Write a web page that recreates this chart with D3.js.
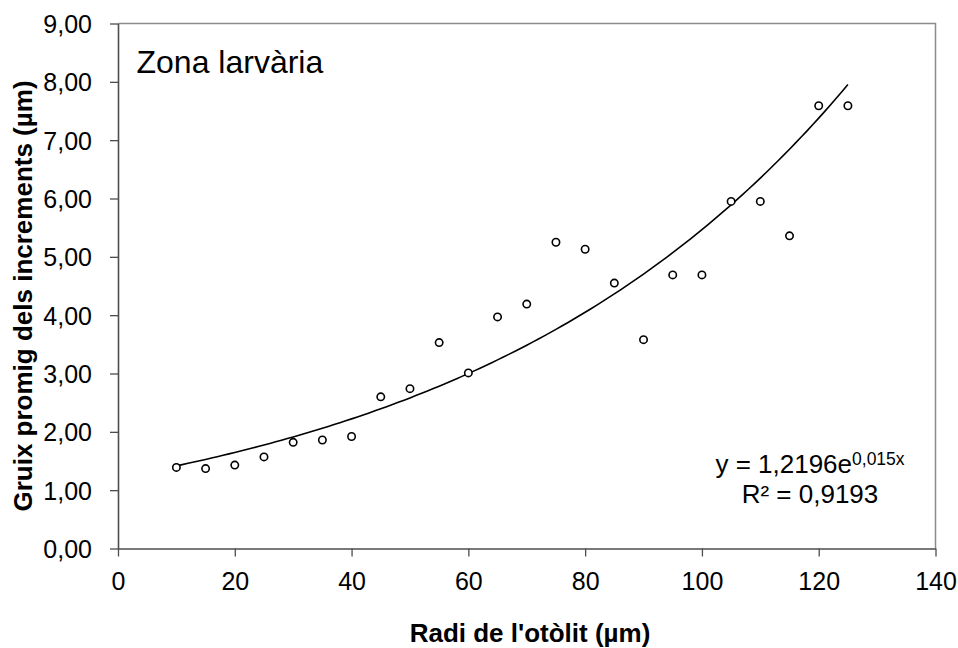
<!DOCTYPE html>
<html>
<head>
<meta charset="utf-8">
<script src="https://cdn.jsdelivr.net/npm/d3@7"></script>
<style>
  body { margin: 0; background: #fff; }
  svg { font-family: "Liberation Sans", Arial, sans-serif; }
</style>
</head>
<body>
<div id="chart"></div>
<script>
var radius = [10, 15, 20, 25, 30, 35, 40, 45, 50, 55, 60, 65, 70, 75, 80, 85, 90, 95, 100, 105, 110, 115, 120, 125];
var thickness = [1.39, 1.37, 1.43, 1.57, 1.82, 1.86, 1.92, 2.60, 2.74, 3.53, 3.01, 3.97, 4.19, 5.25, 5.13, 4.55, 3.58, 4.69, 4.69, 5.95, 5.95, 5.36, 7.59, 7.59];
var xTicks = [0, 20, 40, 60, 80, 100, 120, 140];
var yTicks = [0, 1, 2, 3, 4, 5, 6, 7, 8, 9];
// exponential trend shown on the chart: y = a * e^(b x)
var trendA = 1.2196, trendB = 0.015;
var trendRange = [10, 125];

var margin = {top: 23.5, right: 22.5, bottom: 99.5, left: 118},
    W = 958, H = 648,
    width = W - margin.left - margin.right,
    height = H - margin.top - margin.bottom;

var svg = d3.select("#chart").append("svg")
    .attr("width", W)
    .attr("height", H);

var g = svg.append("g")
    .attr("transform", "translate(" + margin.left + "," + margin.top + ")");

var x = d3.scaleLinear().domain([0, 140]).range([0, width]);
var y = d3.scaleLinear().domain([0, 9]).range([height, 0]);

var fmt = function(d) { return d.toFixed(2).replace(".", ","); };

// plot frame (top / right)
g.append("path")
    .attr("d", "M0,0H" + width + "V" + height)
    .attr("fill", "none")
    .attr("stroke", "#8c8c8c")
    .attr("stroke-width", 1.5);

var xAxis = g.append("g")
    .attr("transform", "translate(0," + height + ")")
    .call(d3.axisBottom(x).tickValues(xTicks).tickSize(8).tickSizeOuter(0).tickPadding(16));

var yAxis = g.append("g")
    .call(d3.axisLeft(y).tickValues(yTicks).tickFormat(fmt).tickSize(8).tickSizeOuter(0).tickPadding(18));

[xAxis, yAxis].forEach(function(a) {
  a.select(".domain").attr("stroke", "#4d4d4d").attr("stroke-width", 1.6);
  a.selectAll(".tick line").attr("stroke", "#4d4d4d").attr("stroke-width", 1.3);
  a.selectAll(".tick text").attr("fill", "#000").style("font-size", "25px");
});
yAxis.selectAll(".tick text").attr("dy", "0.36em");

// trend line
var trendX = d3.range(trendRange[0], trendRange[1] + 0.5, 1);
var line = d3.line()
    .x(function(d) { return x(d); })
    .y(function(d) { return y(trendA * Math.exp(trendB * d)); });

g.append("path")
    .datum(trendX)
    .attr("fill", "none")
    .attr("stroke", "#000")
    .attr("stroke-width", 1.6)
    .attr("d", line);

// points
g.selectAll(".dot")
    .data(radius)
  .enter().append("circle")
    .attr("class", "dot")
    .attr("cx", function(d) { return x(d); })
    .attr("cy", function(d, i) { return y(thickness[i]); })
    .attr("r", 3.7)
    .attr("fill", "#fff")
    .attr("stroke", "#000")
    .attr("stroke-width", 1.6);

// labels
g.append("text")
    .attr("x", 136.5 - margin.left)
    .attr("y", 73.3 - margin.top)
    .style("font-size", "32px")
    .text("Zona larvària");

var eq = svg.append("text")
    .attr("x", 810)
    .attr("y", 473.3)
    .attr("text-anchor", "middle")
    .style("font-size", "26px");
eq.append("tspan").text("y = 1,2196e");
eq.append("tspan").attr("dy", "-8.3").style("font-size", "17.5px").text("0,015x");

svg.append("text")
    .attr("x", 810)
    .attr("y", 503.3)
    .attr("text-anchor", "middle")
    .style("font-size", "26px")
    .text("R² = 0,9193");

svg.append("text")
    .attr("x", 530)
    .attr("y", 642)
    .attr("text-anchor", "middle")
    .style("font-size", "26px")
    .style("font-weight", "bold")
    .text("Radi de l'otòlit (µm)");

svg.append("text")
    .attr("transform", "translate(31.5,296) rotate(-90)")
    .attr("text-anchor", "middle")
    .style("font-size", "26px")
    .style("font-weight", "bold")
    .text("Gruix promig dels increments (µm)");
</script>
</body>
</html>
